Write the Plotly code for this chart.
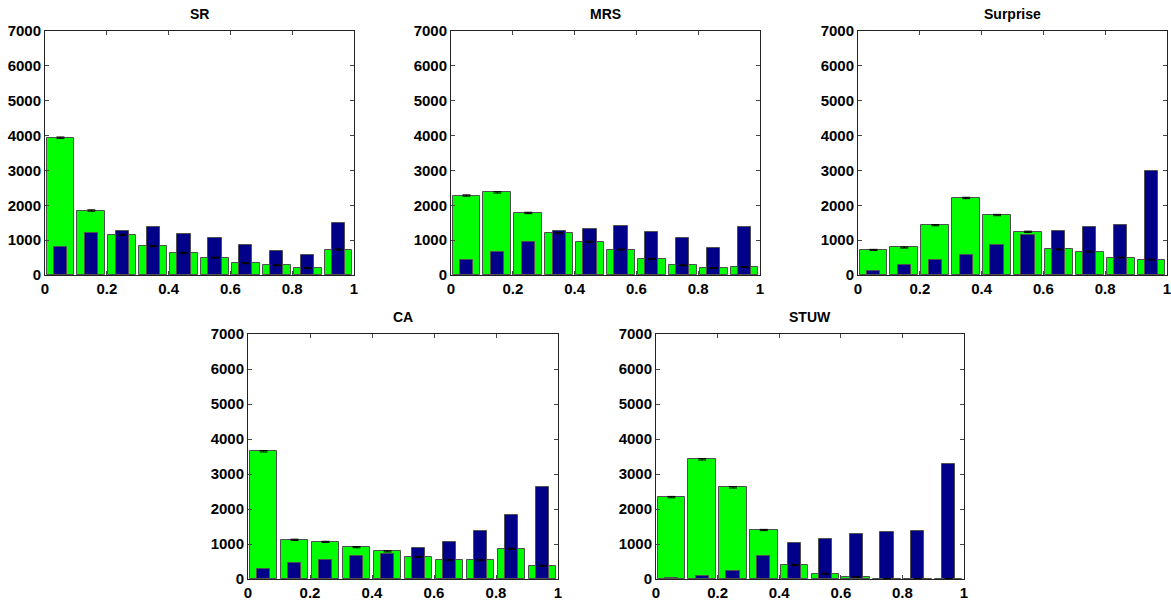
import plotly.graph_objects as go

bin_centers = [0.05, 0.15, 0.25, 0.35, 0.45, 0.55, 0.65, 0.75, 0.85, 0.95]
panel_titles = ["SR", "MRS", "Surprise", "CA", "STUW"]

green_sr = [3940, 1850, 1150, 830, 630, 500, 340, 280, 200, 730]
blue_sr = [790, 1200, 1270, 1370, 1175, 1050, 870, 690, 560, 1480]
err_sr = [20, 20, 20, 18, 18, 16, 15, 15, 14, 18]

green_mrs = [2280, 2370, 1780, 1200, 950, 730, 460, 280, 200, 230]
blue_mrs = [440, 660, 950, 1270, 1320, 1400, 1240, 1050, 770, 1370]
err_mrs = [20, 20, 20, 18, 18, 16, 15, 14, 13, 13]

green_sur = [720, 790, 1430, 2210, 1720, 1240, 735, 670, 500, 440]
blue_sur = [120, 290, 430, 570, 860, 1150, 1270, 1385, 1440, 2980]
err_sur = [16, 16, 18, 20, 20, 18, 16, 15, 14, 14]

green_ca = [3650, 1120, 1060, 910, 790, 630, 540, 540, 860, 380]
blue_ca = [300, 470, 550, 650, 720, 880, 1060, 1380, 1830, 2630]
err_ca = [20, 18, 18, 18, 17, 16, 15, 15, 17, 14]

green_stuw = [2340, 3420, 2620, 1400, 400, 150, 55, 10, 10, 5]
blue_stuw = [40, 75, 240, 650, 1030, 1140, 1280, 1340, 1360, 3300]
err_stuw = [20, 20, 20, 18, 15, 12, 10, 8, 8, 8]

greens = [green_sr, green_mrs, green_sur, green_ca, green_stuw]
blues = [blue_sr, blue_mrs, blue_sur, blue_ca, blue_stuw]
errs = [err_sr, err_mrs, err_sur, err_ca, err_stuw]

W, H = 1171, 601
# pixel boxes of each axes: (left, right, top, bottom)
boxes = [(45, 354, 31, 275), (451, 760, 31, 275), (858, 1167, 31, 275),
         (248, 558, 334, 579), (656, 964, 334, 579)]

fig = go.Figure()
font_main = "Liberation Sans, Arial, sans-serif"

for i in range(5):
    ax = "" if i == 0 else str(i + 1)
    xref = "x" + ax
    yref = "y" + ax
    fig.add_trace(go.Bar(x=bin_centers, y=greens[i], width=0.09,
                         marker=dict(color="#00ff00", line=dict(color="#505050", width=1)),
                         xaxis=xref, yaxis=yref, showlegend=False))
    fig.add_trace(go.Bar(x=bin_centers, y=blues[i], width=0.043,
                         marker=dict(color="#000088", line=dict(color="#505050", width=1)),
                         xaxis=xref, yaxis=yref, showlegend=False))
    fig.add_trace(go.Scatter(x=bin_centers, y=greens[i], mode="markers",
                             marker=dict(color="black", size=1),
                             error_y=dict(type="data", array=errs[i], color="black",
                                          thickness=1, width=4),
                             xaxis=xref, yaxis=yref, showlegend=False))
    l, r, t, b = boxes[i]
    xd = [l / W, r / W]
    yd = [1 - b / H, 1 - t / H]
    axis_common = dict(showline=True, linecolor="#222222", linewidth=1, mirror="ticks",
                       ticks="inside", ticklen=4, tickcolor="#444444", showgrid=False,
                       zeroline=False, automargin=False, ticklabeloverflow="allow",
                       tickfont=dict(family=font_main, size=15, color="black", weight="bold"))
    fig.update_layout(**{
        "xaxis" + ax: dict(domain=xd, range=[0, 1], tickvals=[0, 0.2, 0.4, 0.6, 0.8, 1],
                           ticktext=["0", "0.2", "0.4", "0.6", "0.8", "1"],
                           anchor=yref, **axis_common),
        "yaxis" + ax: dict(domain=yd, range=[0, 7000], dtick=1000, anchor=xref,
                           **axis_common),
    })
    fig.add_annotation(x=(xd[0] + xd[1]) / 2, y=1 - (t - 17) / H, xref="paper", yref="paper",
                       text="<b>" + panel_titles[i] + "</b>", showarrow=False,
                       font=dict(family=font_main, size=14, color="black"),
                       xanchor="center", yanchor="middle")

fig.update_layout(width=W, height=H, margin=dict(l=0, r=0, t=0, b=0),
                  paper_bgcolor="white", plot_bgcolor="white", barmode="overlay",
                  bargap=0)
fig.write_html("out.html")
